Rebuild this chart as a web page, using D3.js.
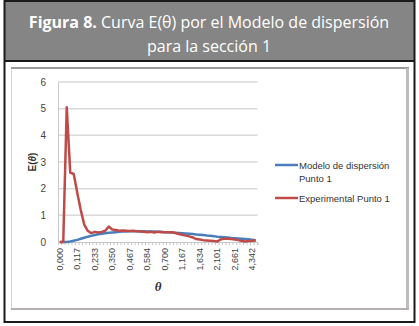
<!DOCTYPE html>
<html>
<head>
<meta charset="utf-8">
<script src="https://cdn.jsdelivr.net/npm/d3@7"></script>
<style>
  body { margin: 0; background: #fff; }
  svg { display: block; }
</style>
</head>
<body>
<div id="grafo"></div>
<script>
// etiquetas visibles del eje x (una cada 5 categorias)
var thetaLabels = ["0,000", "0,117", "0,233", "0,350", "0,467", "0,584", "0,700", "1,167", "1,634", "2,101", "2,661", "4,342"];
var labelStep = 5;

// E(theta), una entrada por categoria
var modelo = [0, 0, 0, 0.02, 0.05, 0.08, 0.12, 0.16, 0.2, 0.23,
  0.26, 0.29, 0.31, 0.33, 0.35, 0.36, 0.37, 0.38, 0.39, 0.39,
  0.4, 0.4, 0.4, 0.4, 0.4, 0.39, 0.39, 0.39, 0.38, 0.38,
  0.37, 0.37, 0.36, 0.35, 0.34, 0.33, 0.32, 0.31, 0.3, 0.28,
  0.27, 0.26, 0.24, 0.23, 0.22, 0.2, 0.19, 0.18, 0.17, 0.15,
  0.14, 0.13, 0.12, 0.11, 0.1, 0.08, 0.07];
var experimental = [0, 0, 5.05, 2.6, 2.55, 1.85, 1.2, 0.65, 0.42, 0.33,
  0.38, 0.36, 0.38, 0.42, 0.58, 0.47, 0.45, 0.42, 0.43, 0.42,
  0.41, 0.42, 0.4, 0.39, 0.38, 0.37, 0.38, 0.36, 0.38, 0.37,
  0.37, 0.37, 0.37, 0.34, 0.3, 0.27, 0.24, 0.21, 0.17, 0.11,
  0.09, 0.07, 0.06, 0.05, 0.04, 0.02, 0.1, 0.12, 0.12, 0.11,
  0.09, 0.07, 0.04, 0.02, 0.04, 0.05, 0.06];
var yTicks = [0, 1, 2, 3, 4, 5, 6];

var width = 419, height = 326;
var svg = d3.select("#grafo").append("svg")
  .attr("width", width)
  .attr("height", height);

// marco exterior y cabecera
svg.append("rect").attr("x", 5).attr("y", 1).attr("width", 409).attr("height", 60)
  .attr("fill", "#858585");
svg.append("line").attr("x1", 4).attr("x2", 415).attr("y1", 61).attr("y2", 61)
  .attr("stroke", "#1a1a1a").attr("stroke-width", 2);
svg.append("line").attr("x1", 4).attr("x2", 415).attr("y1", 1).attr("y2", 1)
  .attr("stroke", "#1a1a1a").attr("stroke-width", 2);
svg.append("line").attr("x1", 4).attr("x2", 415).attr("y1", 322).attr("y2", 322)
  .attr("stroke", "#1a1a1a").attr("stroke-width", 2);
svg.append("line").attr("x1", 4.5).attr("x2", 4.5).attr("y1", 0).attr("y2", 323)
  .attr("stroke", "#1a1a1a").attr("stroke-width", 2);
svg.append("line").attr("x1", 414.5).attr("x2", 414.5).attr("y1", 0).attr("y2", 323)
  .attr("stroke", "#1a1a1a").attr("stroke-width", 2);

var titulo = svg.append("text")
  .attr("x", 209).attr("y", 28)
  .attr("text-anchor", "middle")
  .attr("fill", "#fff")
  .style("font", "16px 'Open Sans', 'Noto Sans', sans-serif");
titulo.append("tspan").attr("font-weight", "bold").text("Figura 8.");
titulo.append("tspan").text(" Curva E(θ) por el Modelo de dispersión");
svg.append("text")
  .attr("x", 209).attr("y", 52)
  .attr("text-anchor", "middle")
  .attr("fill", "#fff")
  .style("font", "16px 'Open Sans', 'Noto Sans', sans-serif")
  .text("para la sección 1");

// marco del grafico
svg.append("rect").attr("x", 11.5).attr("y", 68.5).attr("width", 396).attr("height", 240)
  .attr("fill", "#fff").attr("stroke", "#d6d6d6").attr("stroke-width", 1);
svg.append("line").attr("x1", 11).attr("x2", 409).attr("y1", 68).attr("y2", 68)
  .attr("stroke", "#9a9a9a").attr("stroke-width", 2);
svg.append("line").attr("x1", 407.5).attr("x2", 407.5).attr("y1", 68).attr("y2", 310)
  .attr("stroke", "#bdbdbd").attr("stroke-width", 3);
svg.append("line").attr("x1", 11).attr("x2", 409).attr("y1", 309).attr("y2", 309)
  .attr("stroke", "#b5afaf").attr("stroke-width", 2);

var plot = { left: 58, right: 257.5, top: 82, bottom: 242 };

var x = d3.scaleBand()
  .domain(d3.range(experimental.length))
  .range([plot.left, plot.right]);
var y = d3.scaleLinear().domain([0, 6]).range([plot.bottom, plot.top]);

// rejilla
svg.append("g").selectAll("line")
  .data(yTicks.slice(1))
  .enter().append("line")
  .attr("x1", plot.left).attr("x2", plot.right)
  .attr("y1", function(d) { return y(d); })
  .attr("y2", function(d) { return y(d); })
  .attr("stroke", "#d9d9d9").attr("stroke-width", 1.5);

// eje y
var yAxis = svg.append("g")
  .attr("transform", "translate(" + plot.left + ",0)")
  .call(d3.axisLeft(y).tickValues(yTicks).tickSize(0).tickPadding(12).tickFormat(d3.format("d")));
yAxis.select(".domain").attr("stroke", "#c8c8c8");
yAxis.selectAll("text").attr("fill", "#444").style("font", "10px 'Liberation Sans', Arial, sans-serif");

// eje x
var xAxis = svg.append("g")
  .attr("transform", "translate(0," + plot.bottom + ")")
  .call(d3.axisBottom(x).tickSize(3).tickFormat(function(d) {
    return d % labelStep === 0 ? thetaLabels[d / labelStep] : "";
  }));
xAxis.select(".domain").attr("stroke", "#c8c8c8");
xAxis.selectAll(".tick line").attr("stroke", "#c8c8c8")
  .attr("transform", function(d) { return "translate(" + (x.bandwidth() / 2) + ",0)"; });
xAxis.selectAll("text")
  .attr("fill", "#444")
  .style("font", "9px 'Liberation Sans', Arial, sans-serif")
  .attr("transform", "rotate(-90)")
  .attr("text-anchor", "end")
  .attr("x", -6).attr("y", 0).attr("dy", "0.35em");

// titulos de ejes
var yTitle = svg.append("text")
  .attr("transform", "translate(36,162) rotate(-90)")
  .attr("text-anchor", "middle")
  .attr("fill", "#333")
  .style("font", "bold 10px 'Liberation Sans', Arial, sans-serif");
yTitle.append("tspan").text("E(");
yTitle.append("tspan").attr("font-style", "italic").text("θ");
yTitle.append("tspan").text(")");

svg.append("text")
  .attr("x", 158).attr("y", 291)
  .attr("text-anchor", "middle")
  .attr("fill", "#333")
  .style("font", "italic bold 13px 'Liberation Serif', 'DejaVu Serif', serif")
  .text("θ");

// series
var line = d3.line()
  .x(function(d, i) { return x(i) + x.bandwidth() / 2; })
  .y(function(d) { return y(d); });

svg.append("path").datum(modelo)
  .attr("d", line)
  .attr("fill", "none").attr("stroke", "#4a7ebb").attr("stroke-width", 2.5)
  .attr("stroke-linejoin", "round");
svg.append("path").datum(experimental)
  .attr("d", line)
  .attr("fill", "none").attr("stroke", "#be4b48").attr("stroke-width", 2.5)
  .attr("stroke-linejoin", "round");

// leyenda
var legend = [
  { color: "#4a7ebb", lines: ["Modelo de dispersión", "Punto 1"], y: 165 },
  { color: "#be4b48", lines: ["Experimental Punto 1"], y: 198 }
];
var lg = svg.append("g").selectAll("g").data(legend).enter().append("g");
lg.append("line")
  .attr("x1", 275).attr("x2", 298)
  .attr("y1", function(d) { return d.y; })
  .attr("y2", function(d) { return d.y; })
  .attr("stroke", function(d) { return d.color; })
  .attr("stroke-width", 2.5);
lg.each(function(d) {
  var t = d3.select(this).append("text")
    .attr("fill", "#333")
    .style("font", "9.5px 'Liberation Sans', Arial, sans-serif");
  d.lines.forEach(function(s, k) {
    t.append("tspan").attr("x", 299).attr("y", d.y + 3.5 + k * 13).text(s);
  });
});
</script>
</body>
</html>
